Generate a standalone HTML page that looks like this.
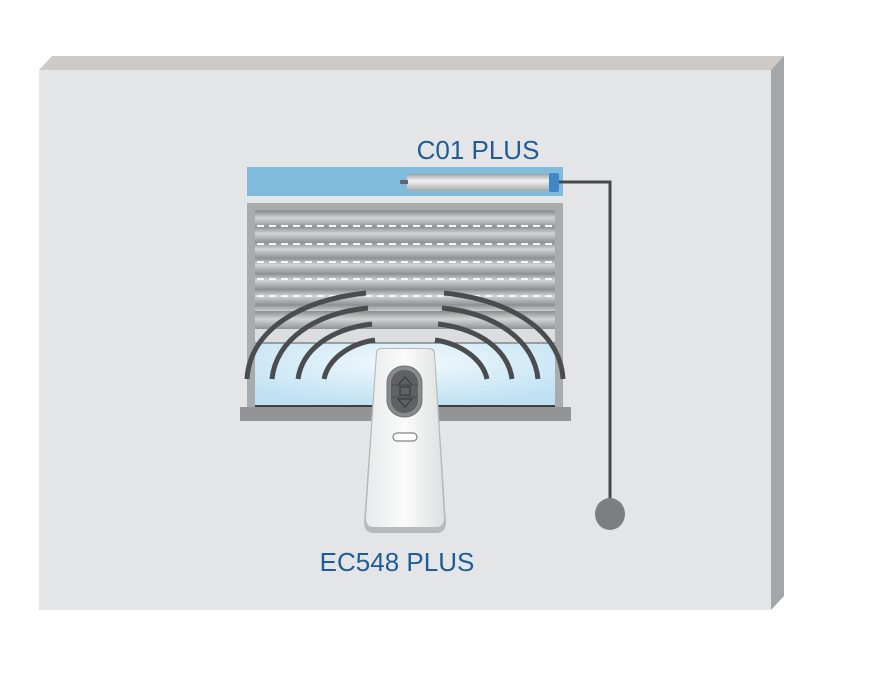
<!DOCTYPE html>
<html><head><meta charset="utf-8"><style>
html,body{margin:0;padding:0;background:#fff;}
svg{display:block}
text{font-family:"Liberation Sans",sans-serif;}
</style></head><body>
<svg width="873" height="686" viewBox="0 0 873 686" xmlns="http://www.w3.org/2000/svg">
<defs>
<linearGradient id="slat" x1="0" y1="0" x2="0" y2="1">
<stop offset="0" stop-color="#8a8c8f"/><stop offset="0.45" stop-color="#d2d3d5"/><stop offset="1" stop-color="#929396"/>
</linearGradient>
<pattern id="slats" x="0" y="211" width="10" height="15.6" patternUnits="userSpaceOnUse">
<rect width="10" height="15.6" fill="url(#slat)"/>
</pattern>
<radialGradient id="glass" cx="0.5" cy="0.3" r="0.7">
<stop offset="0" stop-color="#f2f9fd"/><stop offset="1" stop-color="#bfe1f3"/>
</radialGradient>
<linearGradient id="tube" x1="0" y1="0" x2="0" y2="1">
<stop offset="0" stop-color="#9fa1a3"/><stop offset="0.4" stop-color="#f2f2f2"/><stop offset="1" stop-color="#a5a7a9"/>
</linearGradient>
<linearGradient id="remote" x1="0" y1="0" x2="1" y2="0">
<stop offset="0" stop-color="#e8e9ea"/><stop offset="0.5" stop-color="#fbfbfb"/><stop offset="1" stop-color="#dedfe0"/>
</linearGradient>
</defs>
<polygon points="39,70 52,56 784,56 771,70" fill="#cdcac7"/>
<polygon points="771,70 784,56 784,596 771,610" fill="#a4a6a8"/>
<rect x="39" y="70" width="732" height="540" fill="#e4e5e6"/>
<rect x="247" y="167" width="316" height="29" fill="#80bbdc"/>
<rect x="407" y="174" width="142" height="17" fill="url(#tube)"/>
<rect x="549" y="173" width="10" height="19" rx="2" fill="#3f87c9"/>
<rect x="400" y="180" width="8" height="4" fill="#666"/>
<polyline points="559,182 610,182 610,505" fill="none" stroke="#47494c" stroke-width="3"/>
<ellipse cx="610" cy="514" rx="15" ry="16" fill="#7c7e80"/>
<rect x="247" y="203" width="316" height="210" fill="#aaabad"/>
<rect x="255" y="210" width="300" height="101" fill="url(#slats)"/>
<g stroke="#f4f7f9" stroke-width="2" stroke-dasharray="7,5">
<line x1="257" y1="226" x2="555" y2="226"/><line x1="257" y1="244" x2="555" y2="244"/>
<line x1="257" y1="262" x2="555" y2="262"/><line x1="257" y1="279" x2="555" y2="279"/>
<line x1="257" y1="296" x2="555" y2="296"/><line x1="257" y1="313" x2="555" y2="313"/>
</g>
<rect x="255" y="311" width="300" height="18" fill="url(#slat)"/>
<rect x="255" y="329" width="300" height="14" fill="#dcdddf"/>
<rect x="255" y="343" width="300" height="63" fill="url(#glass)"/>
<line x1="255" y1="343" x2="555" y2="343" stroke="#55575a" stroke-width="1"/>
<line x1="255" y1="406" x2="555" y2="406" stroke="#3d3f42" stroke-width="2"/>
<rect x="240" y="407" width="331" height="14" fill="#939496"/>
<g fill="none" stroke="#4a4c4f" stroke-width="5">
<path d="M247,379 C250,330 300,300 366,293"/>
<path d="M272,379 C276,340 315,313 368,308"/>
<path d="M298,379 C302,350 330,329 372,324"/>
<path d="M324,379 C328,360 348,344 375,340"/>
<path d="M563,379 C560,330 510,300 444,293"/>
<path d="M538,379 C534,340 495,313 442,308"/>
<path d="M512,379 C508,350 480,329 438,324"/>
<path d="M487,379 C483,360 462,344 435,340"/>
</g>
<path d="M376,353 Q376,348 382,348 L429,348 Q435,348 435,353 L446,522 Q446,533 436,533 L374,533 Q364,533 364,522 Z" fill="#b8b9bb"/>
<path d="M377,353 Q377,349 382,349 L428,349 Q433,349 434,353 L444,518 Q444,527 436,527 L374,527 Q366,527 366,518 Z" fill="url(#remote)"/>
<rect x="387" y="366" width="35" height="51" rx="17" fill="#888a8d" stroke="#6f7174" stroke-width="1"/>
<rect x="391" y="370" width="27" height="43" rx="13" fill="#5f6164"/>
<path d="M398,385 L405,377 L412,385 Z" fill="none" stroke="#3a3c3e" stroke-width="1.2"/>
<rect x="400" y="387" width="10" height="8" fill="none" stroke="#3a3c3e" stroke-width="1.2"/>
<path d="M398,399 L412,399 L405,407 Z" fill="none" stroke="#3a3c3e" stroke-width="1.2"/>
<line x1="391" y1="385" x2="418" y2="385" stroke="#4a4c4f"/>
<line x1="391" y1="397" x2="418" y2="397" stroke="#4a4c4f"/>
<rect x="393" y="433" width="24" height="8" rx="4" fill="#fff" stroke="#808285" stroke-width="1.2"/>
<text x="478" y="159" font-size="26" fill="#1f5d98" text-anchor="middle">C01 PLUS</text>
<text x="397" y="571" font-size="26" fill="#1f5d98" text-anchor="middle">EC548 PLUS</text>
</svg>
</body></html>
